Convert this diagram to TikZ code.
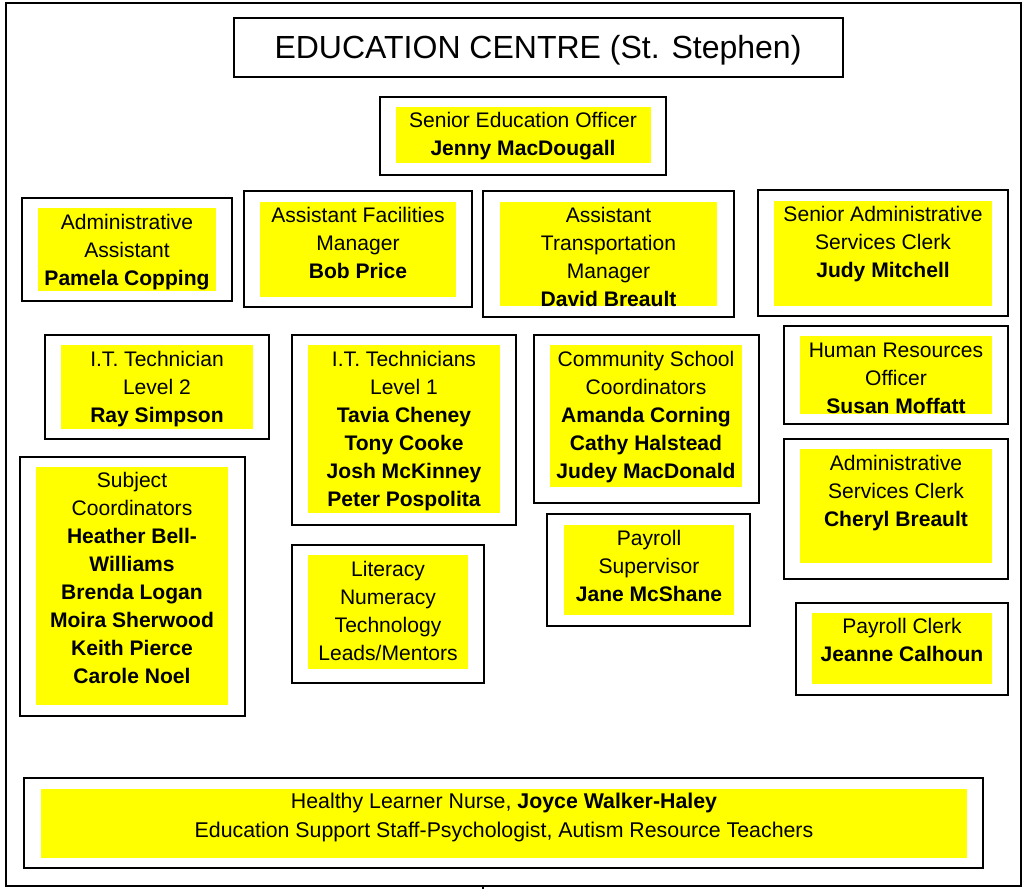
\documentclass[tikz,border=0pt]{standalone}
\usepackage{fontspec}
\setmainfont{Liberation Sans}
\definecolor{hiyellow}{RGB}{255,255,0}
\tikzset{
  frame/.style={draw=black, line width=1.5pt},
  hilite/.style={fill=hiyellow},
  txt/.style={anchor=base, inner sep=0pt, font=\fontsize{15.8}{18}\selectfont},
  bigtxt/.style={anchor=base, inner sep=0pt, font=\fontsize{16}{18}\selectfont},
  ttl/.style={anchor=base, inner sep=0pt, font=\fontsize{24}{28}\selectfont},
}
\newcommand\orgbox[9]{%
  \draw[frame] (#2,#3) rectangle (#4,#5);
  \fill[hilite] (#6,#7) rectangle (#8,#9);
}
\newcommand\orglines[4]{%
  \foreach \t [count=\i] in {#4} {\node[txt] (#1-\i) at (#2,{#3+(\i-1)*28}) {\t};}%
}
\begin{document}
\begin{tikzpicture}[x=0.75pt,y=-0.75pt]
\useasboundingbox (0,0) rectangle (1023,889);
% outer frame
\draw[frame] (6,3) rectangle (1021,886);
\coordinate (stubtop) at (483,886);
\coordinate (stubbot) at (483,889);
\draw[line width=1pt] (stubtop) -- (stubbot);
% title
\draw[frame] (234,18) rectangle (843,77);
\node[ttl] (title) at (538,58) {EDUCATION CENTRE (St. Stephen)};
% Senior Education Officer
\orgbox{seo}{380}{97}{666}{175}{396}{107}{651}{163}
\orglines{seo}{523}{127}{Senior Education Officer,\textbf{Jenny MacDougall}}
% Administrative Assistant
\orgbox{aa}{22}{198}{232}{301}{38}{208}{216}{291}
\orglines{aa}{127}{229}{Administrative,Assistant,\textbf{Pamela Copping}}
% Facilities
\orgbox{fac}{244}{191}{472}{307}{260}{202}{456}{297}
\orglines{fac}{358}{222}{Assistant Facilities,Manager,\textbf{Bob Price}}
% Transportation
\orgbox{tr}{483}{191}{734}{317}{500}{202}{717}{306}
\orglines{tr}{608.5}{222}{Assistant,Transportation,Manager,\textbf{David Breault}}
% Senior Admin
\orgbox{sa}{758}{190}{1008}{316}{774}{201}{992}{306}
\orglines{sa}{883}{221}{Senior Administrative,Services Clerk,\textbf{Judy Mitchell}}
% IT level 2
\orgbox{it2}{45}{335}{269}{439}{61}{345}{253}{429}
\orglines{it2}{157}{366}{I.T. Technician,Level 2,\textbf{Ray Simpson}}
% IT level 1
\orgbox{it1}{292}{335}{516}{525}{308}{345}{500}{513}
\orglines{it1}{404}{366}{I.T. Technicians,Level 1,\textbf{Tavia Cheney},\textbf{Tony Cooke},\textbf{Josh McKinney},\textbf{Peter Pospolita}}
% Community School
\orgbox{cs}{534}{335}{759}{503}{550}{345}{742}{487}
\orglines{cs}{646}{366}{Community School,Coordinators,\textbf{Amanda Corning},\textbf{Cathy Halstead},\textbf{Judey MacDonald}}
% Human Resources
\orgbox{hr}{784}{326}{1008}{424}{800}{336}{992}{414}
\orglines{hr}{896}{357}{Human Resources,Officer,\textbf{Susan Moffatt}}
% Admin Services Clerk
\orgbox{asc}{784}{439}{1008}{579}{800}{449}{992}{563}
\orglines{asc}{896}{470}{Administrative,Services Clerk,\textbf{Cheryl Breault}}
% Payroll Supervisor
\orgbox{ps}{547}{514}{750}{626}{564}{525}{734}{615}
\orglines{ps}{649}{545}{Payroll,Supervisor,\textbf{Jane McShane}}
% Payroll Clerk
\orgbox{pc}{796}{603}{1008}{695}{812}{613}{992}{684}
\orglines{pc}{902}{633}{Payroll Clerk,\textbf{Jeanne Calhoun}}
% Subject Coordinators
\orgbox{sc}{20}{457}{245}{716}{36}{467}{228}{705}
\orglines{sc}{132}{487}{Subject,Coordinators,\textbf{Heather Bell-},\textbf{Williams},\textbf{Brenda Logan},\textbf{Moira Sherwood},\textbf{Keith Pierce},\textbf{Carole Noel}}
% Literacy
\orgbox{lit}{292}{545}{484}{683}{308}{555}{468}{669}
\orglines{lit}{388}{576}{Literacy,Numeracy,Technology,Leads/Mentors}
% Bottom
\orgbox{bot}{24}{778}{983}{868}{41}{789}{967}{858}
\node[bigtxt] (bot-1) at (504,808) {Healthy Learner Nurse, \textbf{Joyce Walker-Haley}};
\node[bigtxt] (bot-2) at (504,837) {Education Support Staff-Psychologist, Autism Resource Teachers};
\end{tikzpicture}
\end{document}
